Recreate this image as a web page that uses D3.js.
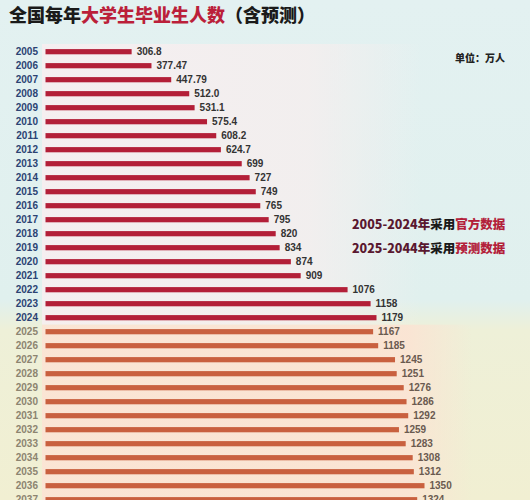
<!DOCTYPE html>
<html>
<head>
  <meta charset="utf-8">
  <script src="https://d3js.org/d3.v7.min.js"></script>
  <style>
    body { margin: 0; }
    svg { display: block; font-family: "Liberation Sans", "Noto Sans CJK SC", sans-serif; }
    .year { font-size: 10px; font-weight: bold; text-anchor: end; }
    .val { font-size: 10px; font-weight: bold; }
    .cjk { font-family: "Noto Sans CJK SC", sans-serif; font-weight: 900; }
  </style>
</head>
<body>
  <svg id="chart" width="530" height="500"></svg>
  <script>
    var years = ['2005', '2006', '2007', '2008', '2009', '2010', '2011', '2012', '2013', '2014',
      '2015', '2016', '2017', '2018', '2019', '2020', '2021', '2022', '2023', '2024',
      '2025', '2026', '2027', '2028', '2029', '2030', '2031', '2032', '2033', '2034',
      '2035', '2036', '2037'];
    var values = [306.8, 377.47, 447.79, 512.0, 531.1, 575.4, 608.2, 624.7, 699, 727,
      749, 765, 795, 820, 834, 874, 909, 1076, 1158, 1179,
      1167, 1185, 1245, 1251, 1276, 1286, 1292, 1259, 1283, 1308,
      1312, 1350, 1324];
    var valueLabels = ['306.8', '377.47', '447.79', '512.0', '531.1', '575.4', '608.2', '624.7', '699', '727',
      '749', '765', '795', '820', '834', '874', '909', '1076', '1158', '1179',
      '1167', '1185', '1245', '1251', '1276', '1286', '1292', '1259', '1283', '1308',
      '1312', '1350', '1324'];
    var lastOfficial = '2024';

    var svg = d3.select('#chart');
    var defs = svg.append('defs');

    // background: cyan on top, cream below, with a soft band where they meet
    var bg = defs.append('linearGradient').attr('id', 'bg')
      .attr('x1', 0).attr('y1', 0).attr('x2', 0).attr('y2', 1);
    bg.append('stop').attr('offset', '0%').attr('stop-color', '#e3f1f1');
    bg.append('stop').attr('offset', '60%').attr('stop-color', '#e0f0ee');
    bg.append('stop').attr('offset', '66%').attr('stop-color', '#eef0d8');
    bg.append('stop').attr('offset', '100%').attr('stop-color', '#f1efd2');
    svg.append('rect').attr('width', 530).attr('height', 500).attr('fill', 'url(#bg)');

    var topBand = defs.append('linearGradient').attr('id', 'topBand');
    topBand.append('stop').attr('offset', '0%').attr('stop-color', '#f7eef0').attr('stop-opacity', 0.9);
    topBand.append('stop').attr('offset', '70%').attr('stop-color', '#f6eeee').attr('stop-opacity', 0.8);
    topBand.append('stop').attr('offset', '100%').attr('stop-color', '#f6eeee').attr('stop-opacity', 0);

    var lowBand = defs.append('linearGradient').attr('id', 'lowBand');
    lowBand.append('stop').attr('offset', '0%').attr('stop-color', '#fbe4d4').attr('stop-opacity', 0.95);
    lowBand.append('stop').attr('offset', '85%').attr('stop-color', '#fbe3d3').attr('stop-opacity', 0.9);
    lowBand.append('stop').attr('offset', '100%').attr('stop-color', '#fbe3d3').attr('stop-opacity', 0);

    var x = d3.scaleLinear().domain([0, 1350]).range([45.5, 424.5]);
    var y = d3.scaleBand().domain(years).range([44.7, 44.7 + 14 * years.length]);

    var split = y(lastOfficial) + y.step();
    svg.append('rect').attr('x', 42).attr('y', 44).attr('width', 380).attr('height', split - 44)
      .attr('fill', 'url(#topBand)');
    svg.append('rect').attr('x', 42).attr('y', split).attr('width', 430).attr('height', 500 - split)
      .attr('fill', 'url(#lowBand)');

    var isOfficial = function (d) { return +d <= +lastOfficial; };

    var row = svg.selectAll('g.row')
      .data(years)
      .enter()
      .append('g')
      .attr('class', 'row')
      .attr('transform', function (d) { return 'translate(0,' + (y(d) + y.step() / 2) + ')'; });

    row.append('rect')
      .attr('x', x(0))
      .attr('y', -2.6)
      .attr('height', 5.2)
      .attr('width', function (d, i) { return x(values[i]) - x(0); })
      .attr('fill', function (d) { return isOfficial(d) ? '#b31f38' : '#c9603f'; });

    row.append('text')
      .attr('class', 'year')
      .attr('x', 38)
      .attr('dy', '.35em')
      .attr('fill', function (d) { return isOfficial(d) ? '#2b4373' : '#8c8470'; })
      .text(function (d) { return d; });

    row.append('text')
      .attr('class', 'val')
      .attr('x', function (d, i) { return x(values[i]) + 5; })
      .attr('dy', '.35em')
      .attr('fill', function (d) { return isOfficial(d) ? '#333333' : '#6a5a50'; })
      .text(function (d, i) { return valueLabels[i]; });

    // title
    var title = svg.append('text').attr('class', 'cjk').attr('x', 9).attr('y', 22)
      .attr('font-size', 18);
    title.append('tspan').attr('fill', '#1a1a1a').text('全国每年');
    title.append('tspan').attr('fill', '#bb1f3a').text('大学生毕业生人数');
    title.append('tspan').attr('fill', '#1a1a1a').text('（含预测）');

    svg.append('text').attr('class', 'cjk').attr('x', 505).attr('y', 62)
      .attr('text-anchor', 'end').attr('font-size', 10).attr('fill', '#222')
      .text('单位：万人');

    // legend notes
    var notes = [
      ['2005-2024年', '采用', '官方数据', 229],
      ['2025-2044年', '采用', '预测数据', 253]
    ];
    notes.forEach(function (n) {
      var t = svg.append('text').attr('class', 'cjk').attr('x', 352).attr('y', n[3])
        .attr('font-size', 12.5);
      t.append('tspan').attr('fill', '#5a1830').text(n[0]);
      t.append('tspan').attr('fill', '#1a1a1a').text(n[1]);
      t.append('tspan').attr('fill', '#b3203a').text(n[2]);
    });
  </script>
</body>
</html>
